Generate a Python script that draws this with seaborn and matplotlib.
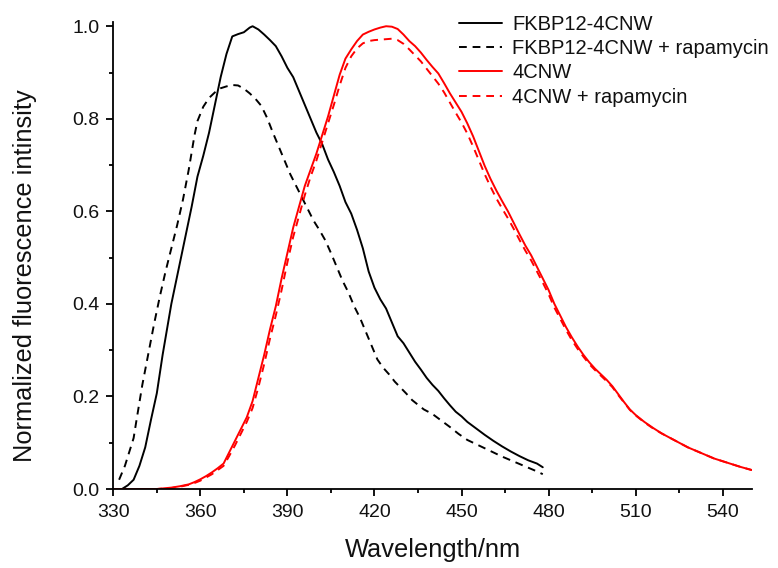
import matplotlib
matplotlib.use("Agg")
import matplotlib.pyplot as plt
import seaborn as sns
import pandas as pd
from matplotlib.ticker import MultipleLocator

# ---------------- data ----------------
fk_x = [333, 335, 337, 339, 341, 343, 345, 347, 350, 353, 355, 357, 359, 361, 363, 365,
        367, 369, 371, 373, 375, 377, 378, 380, 382, 384, 386, 388, 390, 392, 394, 396,
        398, 400, 402, 404, 406, 408, 410, 412, 414, 416, 418, 420, 422, 424, 426, 428,
        430, 432, 434, 436, 438, 440, 442, 444, 446, 448, 450, 452, 455, 458, 461, 464,
        467, 470, 473, 476, 478]
fk_y = [0.0, 0.008, 0.02, 0.05, 0.09, 0.15, 0.207, 0.29, 0.40, 0.49, 0.55, 0.61, 0.675,
        0.72, 0.77, 0.83, 0.89, 0.94, 0.978, 0.983, 0.987, 0.997, 1.0, 0.993, 0.982, 0.97,
        0.957, 0.935, 0.91, 0.89, 0.86, 0.83, 0.80, 0.77, 0.745, 0.712, 0.685, 0.655, 0.62,
        0.595, 0.56, 0.52, 0.47, 0.435, 0.41, 0.39, 0.36, 0.33, 0.315, 0.295, 0.275, 0.258,
        0.24, 0.225, 0.212, 0.196, 0.181, 0.167, 0.157, 0.145, 0.131, 0.117, 0.104, 0.092,
        0.081, 0.071, 0.062, 0.055, 0.047]

fkr_x = [332, 334, 335, 337, 338, 340, 342, 344, 346, 348, 350, 352, 354, 356, 358, 359,
         361, 363, 365, 367, 369, 371, 373, 375, 377, 379, 381, 383, 385, 387, 389, 391,
         393, 395, 397, 399, 401, 403, 405, 407, 409, 411, 413, 415, 417, 419, 421, 423,
         425, 427, 429, 431, 433, 435, 437, 440, 443, 446, 449, 452, 455, 458, 461, 464,
         467, 470, 473, 476, 478]
fkr_y = [0.02, 0.05, 0.07, 0.11, 0.149, 0.225, 0.29, 0.355, 0.415, 0.47, 0.52, 0.57, 0.625,
         0.69, 0.765, 0.795, 0.826, 0.845, 0.857, 0.866, 0.87, 0.873, 0.872, 0.865, 0.855,
         0.843, 0.828, 0.802, 0.77, 0.74, 0.71, 0.68, 0.655, 0.63, 0.605, 0.58, 0.56, 0.538,
         0.51, 0.48, 0.45, 0.425, 0.395, 0.37, 0.34, 0.31, 0.28, 0.262, 0.248, 0.232, 0.219,
         0.206, 0.192, 0.182, 0.172, 0.162, 0.148, 0.134, 0.119, 0.106, 0.097, 0.088, 0.079,
         0.07, 0.062, 0.054, 0.046, 0.038, 0.032]

cn_x = [330, 335, 340, 345, 350, 353, 356, 358, 360, 362, 364, 366, 368, 370, 372, 374,
        376, 378, 380, 382, 384, 386, 388, 390, 392, 394, 396, 398, 400, 402, 404, 406,
        408, 410, 412, 414, 416, 418, 420, 422, 424, 426, 428, 430, 432, 434, 436, 438,
        440, 442, 444, 446, 448, 450, 452, 454, 456, 458, 460, 462, 464, 466, 468, 470,
        472, 474, 476, 478, 480, 482, 484, 486, 488, 490, 492, 494, 496, 498, 500, 502,
        504, 506, 508, 510, 513, 516, 519, 522, 525, 528, 531, 534, 537, 540, 543, 546, 550]
cn_y = [0.0, 0.0, 0.0, 0.0, 0.003, 0.006, 0.01, 0.015, 0.021, 0.028, 0.036, 0.045, 0.055,
        0.08, 0.105, 0.13, 0.155, 0.19, 0.24, 0.29, 0.345, 0.395, 0.455, 0.51, 0.565, 0.61,
        0.655, 0.69, 0.725, 0.765, 0.805, 0.85, 0.895, 0.93, 0.95, 0.968, 0.982, 0.988,
        0.993, 0.997, 1.0, 0.999, 0.994, 0.982, 0.968, 0.957, 0.943, 0.927, 0.912, 0.898,
        0.877, 0.855, 0.835, 0.815, 0.79, 0.762, 0.73, 0.698, 0.67, 0.645, 0.622, 0.6,
        0.575, 0.55, 0.526, 0.505, 0.48, 0.455, 0.43, 0.4, 0.375, 0.35, 0.328, 0.308, 0.29,
        0.274, 0.26, 0.248, 0.236, 0.222, 0.205, 0.188, 0.172, 0.16, 0.145, 0.132, 0.12,
        0.11, 0.1, 0.09, 0.082, 0.074, 0.066, 0.06, 0.054, 0.048, 0.041]

cnr_x = cn_x
cnr_y = [0.0, 0.0, 0.0, 0.0, 0.002, 0.005, 0.009, 0.013, 0.018, 0.025, 0.032, 0.041, 0.05,
         0.072, 0.095, 0.12, 0.145, 0.175, 0.22, 0.27, 0.325, 0.375, 0.43, 0.49, 0.545, 0.59,
         0.635, 0.675, 0.71, 0.75, 0.79, 0.83, 0.872, 0.91, 0.935, 0.952, 0.963, 0.968, 0.97,
         0.971, 0.972, 0.973, 0.97, 0.962, 0.95, 0.937, 0.924, 0.908, 0.892, 0.876, 0.857,
         0.835, 0.813, 0.792, 0.768, 0.74, 0.71, 0.68, 0.653, 0.628, 0.606, 0.585, 0.562,
         0.538, 0.515, 0.494, 0.47, 0.446, 0.421, 0.392, 0.368, 0.344, 0.322, 0.303, 0.286,
         0.27, 0.257, 0.245, 0.233, 0.22, 0.203, 0.187, 0.171, 0.159, 0.144, 0.131, 0.12,
         0.11, 0.1, 0.09, 0.082, 0.074, 0.066, 0.06, 0.054, 0.048, 0.041]

labels = ["FKBP12-4CNW", "FKBP12-4CNW + rapamycin", "4CNW", "4CNW + rapamycin"]
x_ticks = [330, 360, 390, 420, 450, 480, 510, 540]
y_ticks = [0.0, 0.2, 0.4, 0.6, 0.8, 1.0]

# ---------------- style ----------------
sns.set_theme(style="ticks")
plt.rcParams["font.family"] = ["Liberation Sans", "DejaVu Sans"]

W, H = 778, 568
fig = plt.figure(figsize=(W / 100, H / 100), dpi=100)
ax = fig.add_axes([113.3 / W, 1 - 489 / H, 638.4 / W, 467.4 / H])

series = [
    (fk_x, fk_y, "black", "-"),
    (fkr_x, fkr_y, "black", (0, (4, 3))),
    (cn_x, cn_y, "red", "-"),
    (cnr_x, cnr_y, "red", (0, (4, 3))),
]
for (xs, ys, c, ls), lab in zip(series, labels):
    df = pd.DataFrame({"x": xs, "y": ys})
    sns.lineplot(data=df, x="x", y="y", ax=ax, color=c, linestyle=ls,
                 linewidth=1.4, estimator=None, label=lab)

ax.set_xlim(330, 550)
ax.set_ylim(0, 1.01)
ax.set_xticks(x_ticks)
ax.set_yticks(y_ticks)
ax.set_yticklabels([f"{v:.1f}" for v in y_ticks])
ax.xaxis.set_minor_locator(MultipleLocator(15))
ax.yaxis.set_minor_locator(MultipleLocator(0.1))
ax.tick_params(which="major", direction="out", length=5, width=1.3,
               labelsize=14, color="black", labelcolor="#111111")
ax.tick_params(axis="x", which="major", pad=5.5)
ax.tick_params(axis="y", which="major", pad=5)
ax.tick_params(which="minor", direction="out", length=3, width=1.3, color="black")
for s in ["top", "right"]:
    ax.spines[s].set_visible(False)
for s in ["left", "bottom"]:
    ax.spines[s].set_linewidth(1.3)
    ax.spines[s].set_color("black")

ax.set_xlabel("Wavelength/nm", fontsize=18.3, color="#111111")
ax.set_ylabel("Normalized fluorescence intinsity", fontsize=18.3, color="#111111")
ax.xaxis.set_label_coords(0.5, (489 - 538) / 467.4)
ax.yaxis.set_label_coords((37 - 113.3) / 638.4, (489 - 275.5) / 467.4)

leg = ax.legend(loc="upper left", bbox_to_anchor=(459 / W, 1 - 15 / H),
                bbox_transform=fig.transFigure, frameon=False, fontsize=14.5,
                handlelength=2.15, handletextpad=0.5, labelspacing=0.26,
                borderpad=0.0, borderaxespad=0.0)
for t in leg.get_texts():
    t.set_color("#111111")

fig.savefig("out.png", dpi=100)
